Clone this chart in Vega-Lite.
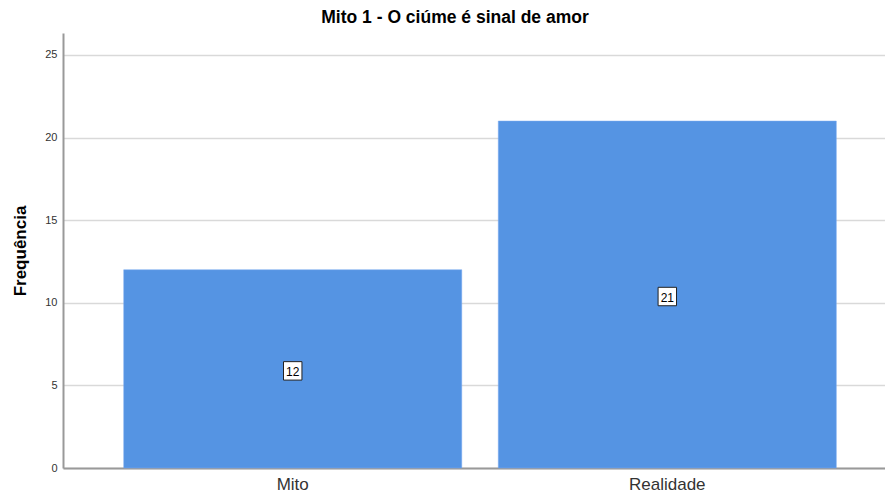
{
  "$schema": "https://vega.github.io/schema/vega-lite/v6.json",
  "autosize": {"type": "none"},
  "padding": {"left": 63, "top": 33, "right": 0, "bottom": 27},
  "width": 822,
  "height": 435,
  "background": "white",
  "title": {
    "text": "Mito 1 - O ciúme é sinal de amor",
    "font": "Liberation Sans",
    "fontSize": 17.5,
    "fontWeight": "bold",
    "color": "#000000",
    "anchor": "middle",
    "dx": -19,
    "offset": 7
  },
  "data": {
    "values": [
      {"categoria": "Mito", "frequencia": 12},
      {"categoria": "Realidade", "frequencia": 21}
    ]
  },
  "config": {
    "view": {"stroke": null},
    "font": "Liberation Sans"
  },
  "encoding": {
    "x": {
      "field": "categoria",
      "type": "nominal",
      "sort": null,
      "scale": {"paddingInner": 0.0975, "paddingOuter": 0.146, "align": 0.555},
      "axis": {
        "title": null,
        "labelAngle": 0,
        "labelFontSize": 17,
        "labelColor": "#333333",
        "labelFont": "Liberation Sans",
        "labelPadding": 8,
        "ticks": false,
        "domainColor": "#999999",
        "domainWidth": 2,
        "grid": false
      }
    }
  },
  "layer": [
    {
      "mark": {"type": "bar", "color": "#5594E3", "stroke": "#7aaaf0", "strokeWidth": 0.5},
      "encoding": {
        "y": {
          "field": "frequencia",
          "type": "quantitative",
          "scale": {"domain": [0, 26.33], "nice": false},
          "axis": {
            "title": "Frequência",
            "titleFontSize": 17,
            "titleFontWeight": "bold",
            "titleColor": "#000000",
            "titleFont": "Liberation Sans",
            "titlePadding": 15,
            "values": [0, 5, 10, 15, 20, 25],
            "labelFontSize": 11,
            "labelColor": "#333333",
            "labelPadding": 6,
            "ticks": false,
            "domainColor": "#999999",
            "domainWidth": 2,
            "gridColor": "#d9d9d9",
            "gridWidth": 1.5
          }
        }
      }
    },
    {
      "transform": [{"calculate": "datum.frequencia / 2", "as": "meio"}],
      "mark": {"type": "point", "shape": "square", "size": 340, "filled": true, "fill": "white", "stroke": "#222222", "strokeWidth": 1, "opacity": 1},
      "encoding": {
        "y": {"field": "meio", "type": "quantitative"},
        "yOffset": {"value": 2}
      }
    },
    {
      "transform": [{"calculate": "datum.frequencia / 2", "as": "meio"}],
      "mark": {"type": "text", "fontSize": 12, "color": "#000000", "baseline": "middle", "align": "center", "dy": 3},
      "encoding": {
        "y": {"field": "meio", "type": "quantitative"},
        "text": {"field": "frequencia", "type": "quantitative"}
      }
    }
  ]
}
